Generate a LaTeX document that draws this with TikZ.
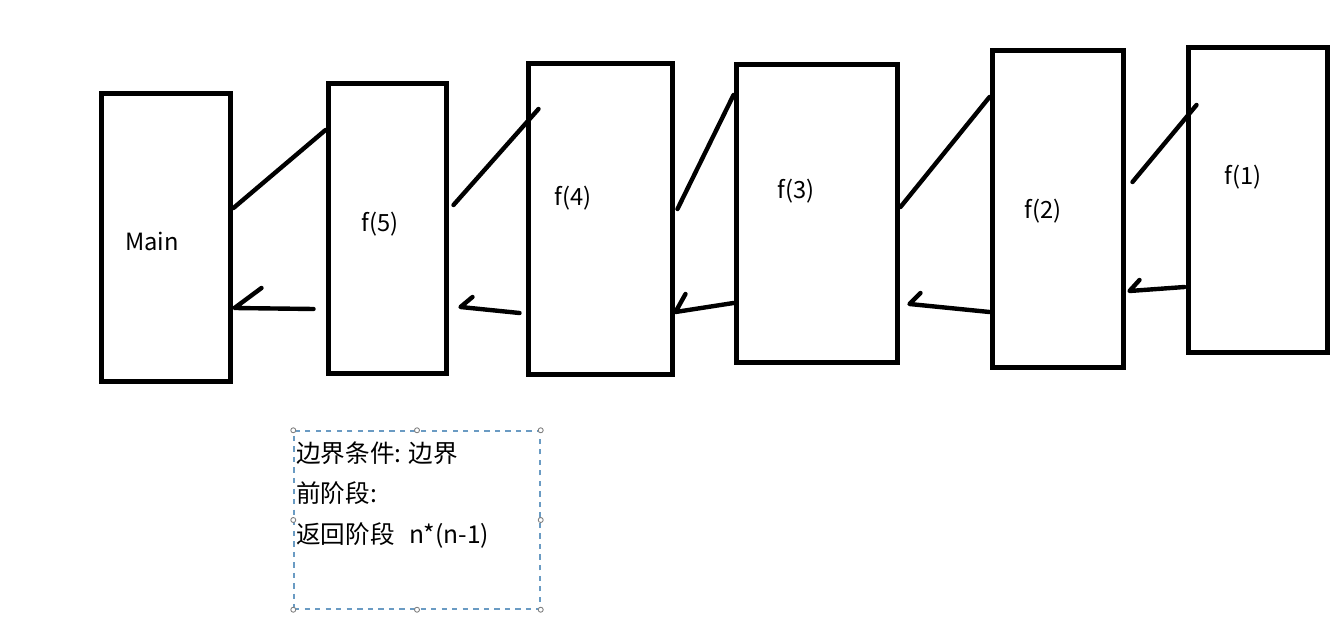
\documentclass[tikz,border=0pt]{standalone}
\usepackage{fontspec}
\setmainfont{Noto Sans CJK SC}
\usetikzlibrary{calc}
\definecolor{selblue}{HTML}{6A9BC3}
\begin{document}
\begin{tikzpicture}[x=0.02cm, y=-0.02cm,
    frame/.style={draw, rectangle, line width=0.1cm, inner sep=0pt},
    stroke/.style={line width=0.088cm, line cap=round, line join=round},
    every node/.style={font=\fontsize{13.5}{16}\selectfont}]
  \useasboundingbox (0,0) rectangle (1336,618);

  % 调用栈：Main 与 f(5) ... f(1)
  \node[frame, minimum width=2.6cm, minimum height=5.78cm] (main) at (166,237.5) {};
  \node[frame, minimum width=2.38cm, minimum height=5.82cm] (f5) at (387.5,228.5) {};
  \node[frame, minimum width=2.9cm, minimum height=6.24cm] (f4) at (600.5,219) {};
  \node[frame, minimum width=3.24cm, minimum height=5.98cm] (f3) at (817,213.5) {};
  \node[frame, minimum width=2.64cm, minimum height=6.36cm] (f2) at (1058,209) {};
  \node[frame, minimum width=2.8cm, minimum height=6.12cm] (f1) at (1258,200) {};

  \node (mainlbl) at (152,241) {Main};
  \node (f5lbl) at (380,224) {f(5)};
  \node (f4lbl) at (573,198) {f(4)};
  \node (f3lbl) at (796,191) {f(3)};
  \node (f2lbl) at (1043,211) {f(2)};
  \node (f1lbl) at (1243,177) {f(1)};

  % 递推：向上的斜线
  \draw[stroke] (main.east |- 0,208) -- (f5.west |- 0,130);
  \draw[stroke] ($(f5.east |- 0,205)+(4,0)$) -- ($(f4.west |- 0,109)+(13,0)$);
  \draw[stroke] ($(f4.east |- 0,209)+(2,0)$) -- (f3.west |- 0,95);
  \draw[stroke] (f3.east |- 0,207) -- (f2.west |- 0,97);
  \draw[stroke] ($(f2.east |- 0,182)+(6,0)$) -- ($(f1.west |- 0,105)+(11,0)$);

  % 回归：手画的返回箭头
  \draw[stroke] ($(f5.west |- 0,309)+(-12,0)$) -- ($(main.east |- 0,308)+(1,0)$) -- ++(27,-20);
  \draw[stroke] ($(f4.west |- 0,313)+(-6,0)$) -- ($(f5.east |- 0,307)+(11,0)$) -- ++(12,-10);
  \draw[stroke] (f3.west |- 0,303) -- (f4.east |- 0,312) -- ++(10,-18);
  \draw[stroke] (f2.west |- 0,312) -- ($(f3.east |- 0,304)+(9,0)$) -- ++(11,-11);
  \draw[stroke] ($(f1.west |- 0,287)+(-1,0)$) -- ($(f2.east |- 0,291)+(3,0)$) -- ++(10,-11);

  % 选中的文本框
  \node[draw=selblue, dashed, line width=0.03cm, inner sep=0pt,
        minimum width=4.92cm, minimum height=3.56cm] (note) at (417,520) {};
  \foreach \a in {north west,north,north east,east,south east,south,south west,west}
    \filldraw[fill=white, draw=gray, line width=0.5pt] (note.\a) circle (0.05cm);
  \node[anchor=north west, align=left, inner sep=0pt,
        font=\fontsize{14}{23.2}\selectfont] (notetext) at (296,441)
        {边界条件: 边界\\前阶段:\\返回阶段\hspace{0.3cm}n*(n-1)};
\end{tikzpicture}
\end{document}
